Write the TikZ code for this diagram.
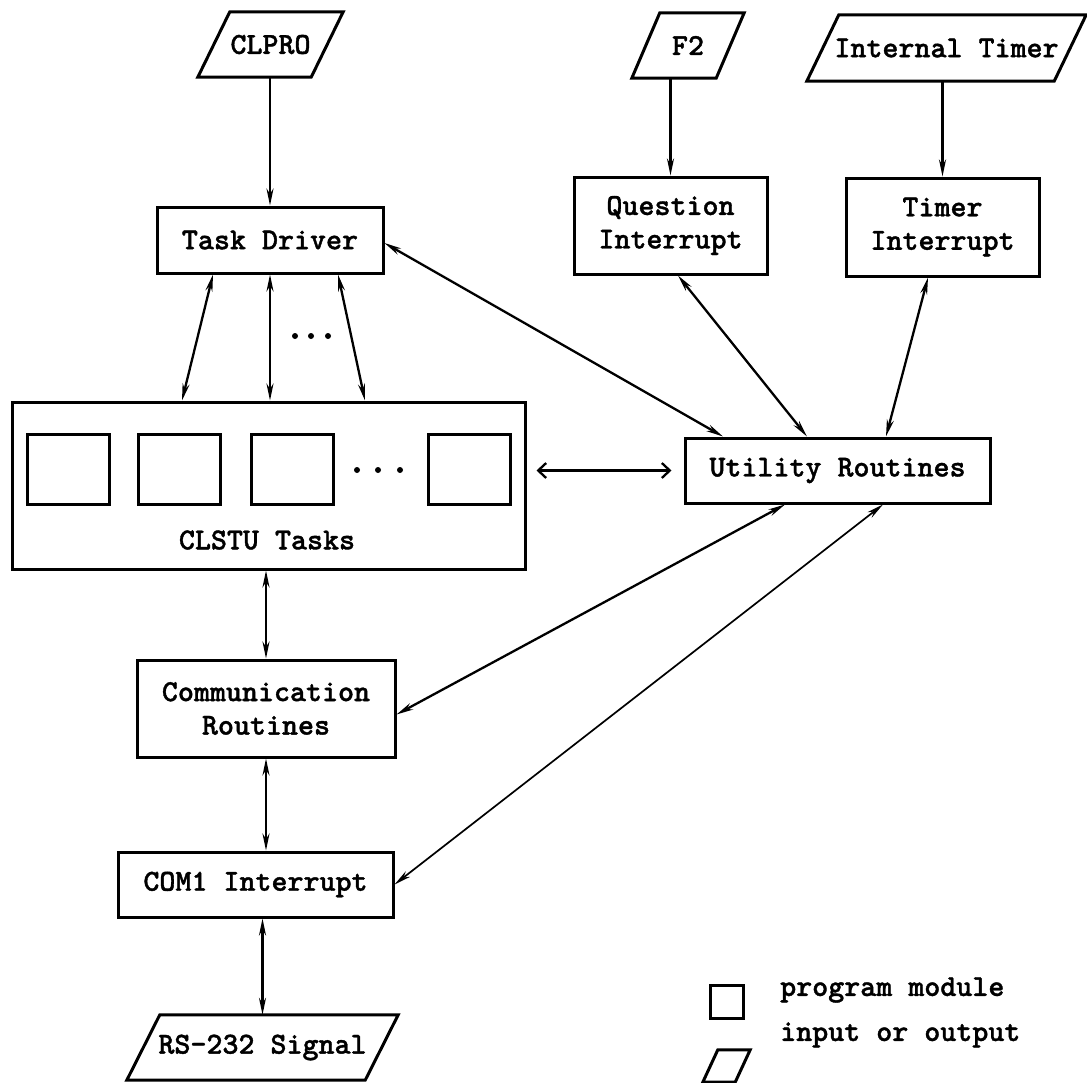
\documentclass[tikz,border=0pt]{standalone}
\usepackage{fontspec}
\newfontfamily\diagfont{lmmonolt10-bold}[Extension=.otf, FakeBold=1.2]
\usetikzlibrary{arrows.meta}

% parallelogram outline around a rectangular io node; #2 = horizontal slant offset
\newcommand{\ioframe}[2]{%
  \draw[frame] ([xshift=-#2/2]#1.south west) -- ([xshift=-#2/2]#1.south east)
    -- ([xshift=#2/2]#1.north east) -- ([xshift=#2/2]#1.north west) -- cycle;}

\begin{document}
\begin{tikzpicture}[x=1pt,y=-1pt,
  every node/.style={font=\diagfont\fontsize{30.5}{33.5}\selectfont, inner sep=0pt},
  box/.style={draw, line width=3pt, rectangle, align=center},
  io/.style={rectangle, align=center},
  frame/.style={line width=3pt, line join=miter},
  link/.style={line width=2.3pt, {Stealth[length=17pt,width=7pt]}-{Stealth[length=17pt,width=7pt]}},
  feed/.style={line width=2.3pt, -{Stealth[length=17pt,width=7pt]}},
  dot/.style={fill=black},
]
\useasboundingbox (0,0) rectangle (1087,1082);

% inputs and outputs
\node[io, minimum width=113pt, minimum height=65pt] (clpro) at (270.5,44.5) {CLPRO};
\ioframe{clpro}{32}
\node[io, minimum width=84pt, minimum height=65pt] (f2) at (688,45.5) {F2};
\ioframe{f2}{28}
\node[io, minimum width=247pt, minimum height=66pt] (itimer) at (946.5,48) {Internal Timer};
\ioframe{itimer}{32}
\node[io, minimum width=238pt, minimum height=65pt] (rs) at (262.5,1047.5) {RS-232 Signal};
\ioframe{rs}{33}

% program modules
\node[box, minimum width=226pt, minimum height=66pt] (td) at (270,240) {Task Driver};
\node[box, minimum width=193pt, minimum height=97pt] (qi) at (670.5,225.5) {Question\\Interrupt};
\node[box, minimum width=193pt, minimum height=98pt] (ti) at (942.5,227) {Timer\\Interrupt};
\node[box, minimum width=305pt, minimum height=65pt] (ut) at (837.5,470.5) {Utility Routines};
\node[box, minimum width=513pt, minimum height=167pt] (cl) at (268.5,485.5) {};
\node (cltext) at (267,540) {CLSTU Tasks};
\node[box, minimum width=82pt, minimum height=70pt] (t1) at (68,469) {};
\node[box, minimum width=82pt, minimum height=70pt] (t2) at (179,469) {};
\node[box, minimum width=82pt, minimum height=70pt] (t3) at (292,469) {};
\node[box, minimum width=82pt, minimum height=70pt] (t4) at (469,469) {};
\node[box, minimum width=258pt, minimum height=97pt] (cm) at (266,708.5) {Communication\\Routines};
\node[box, minimum width=275pt, minimum height=65pt] (com) at (255.5,884.5) {COM1 Interrupt};

% ellipsis dots
\foreach \x in {295,311,328} \fill[dot] (\x,336) circle (3pt);
\foreach \x in {357,378,400} \fill[dot] (\x,470) circle (3pt);

% connectors
\draw[feed] (td.north |- clpro.south) -- (td.north);
\draw[feed] (qi.north |- f2.south) -- (qi.north);
\draw[feed] (ti.north |- itimer.south) -- (ti.north);
\draw[link] ([xshift=-57]td.south) -- ([xshift=-86.5]cl.north);
\draw[link] (td.south) -- (td.south |- cl.north);
\draw[link] ([xshift=68]td.south) -- ([xshift=96.5]cl.north);
\draw[link] ([yshift=-3]td.east) -- ([xshift=-114.5]ut.north);
\draw[link] ([xshift=7.5]qi.south) -- ([xshift=-30.5]ut.north);
\draw[link] ([xshift=-14.5]ti.south) -- ([xshift=48.5]ut.north);
\draw[line width=2.3pt, {Straight Barb[length=8pt,width=15pt]}-{Straight Barb[length=8pt,width=15pt]},
      shorten <=10pt, shorten >=12pt] (cl.east |- ut.west) -- (ut.west);
\draw[link] (cm.north |- cl.south) -- (cm.north);
\draw[link] ([xshift=-52.5]ut.south) -- ([yshift=-6]cm.east);
\draw[link, line width=1.7pt] ([xshift=45.5]ut.south) -- (com.east);
\draw[link] (cm.south) -- (cm.south |- com.north);
\draw[link] (rs.north |- com.south) -- (rs.north);

% legend
\node[draw, line width=3pt, minimum width=33pt, minimum height=33pt] (lgbox) at (726.5,1001.5) {};
\node[io, minimum width=32pt, minimum height=32pt] (lgio) at (726.5,1066) {};
\ioframe{lgio}{15}
\node[anchor=west] (lgt1) at (780,990) {program module};
\node[anchor=west] (lgt2) at (780,1035) {input or output};
\end{tikzpicture}
\end{document}
